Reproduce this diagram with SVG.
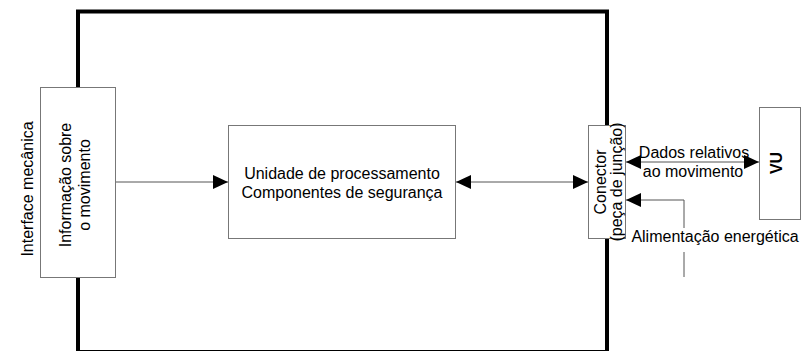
<svg xmlns="http://www.w3.org/2000/svg" width="802" height="351" viewBox="0 0 802 351">
<defs>
<style>
text{font-family:"Liberation Sans",Arial,sans-serif;font-size:16px;fill:#000}
.box{fill:#fff;stroke:#777;stroke-width:1}
.conn{fill:none;stroke:#555;stroke-width:1}
.frame{fill:none;stroke:#000;stroke-width:4}
</style>
<marker id="ah" markerUnits="userSpaceOnUse" markerWidth="15" markerHeight="15" refX="15" refY="7" orient="auto-start-reverse" viewBox="0 0 15 14">
<path d="M0,0 L15,7 L0,14 z" fill="#000"/>
</marker>
</defs>
<rect width="802" height="351" fill="#fff"/>
<g id="frame"><rect class="frame" x="78" y="11.5" width="529" height="340.5"/></g>
<g id="connectors">
<path class="conn" d="M115,182 H228" marker-end="url(#ah)"/>
<path class="conn" d="M456,182 H588" marker-start="url(#ah)" marker-end="url(#ah)"/>
<path class="conn" d="M626,162 H759" marker-start="url(#ah)" marker-end="url(#ah)"/>
<path class="conn" d="M684,228 V200 H626" marker-end="url(#ah)"/>
<path class="conn" d="M684,252 V277"/>
</g>
<g id="interface-label"><text transform="translate(33,189) rotate(-90)" text-anchor="middle">Interface mecânica</text></g>
<g id="info">
<rect class="box" x="40.5" y="87.5" width="75" height="190"/>
<text transform="translate(71,185) rotate(-90)" text-anchor="middle">Informação sobre</text>
<text transform="translate(90,185) rotate(-90)" text-anchor="middle">o movimento</text>
</g>
<g id="processing">
<rect class="box" x="228.5" y="125.5" width="227" height="113"/>
<text x="342" y="179" text-anchor="middle">Unidade de processamento</text>
<text x="342" y="198" text-anchor="middle">Componentes de segurança</text>
</g>
<g id="connector">
<rect class="box" x="588.5" y="125.5" width="37" height="113"/>
<text transform="translate(606,182) rotate(-90)" text-anchor="middle">Conector</text>
<text transform="translate(622,182) rotate(-90)" text-anchor="middle">(peça de junção)</text>
</g>
<g id="vu">
<rect class="box" x="759.5" y="107.5" width="41" height="112"/>
<text transform="translate(782,163) rotate(-90)" text-anchor="middle" font-weight="bold">VU</text>
</g>
<g id="labels">
<text x="694" y="158" text-anchor="middle">Dados relativos</text>
<text x="693" y="177" text-anchor="middle">ao movimento</text>
<text x="715" y="242" text-anchor="middle">Alimentação energética</text>
</g>
</svg>
